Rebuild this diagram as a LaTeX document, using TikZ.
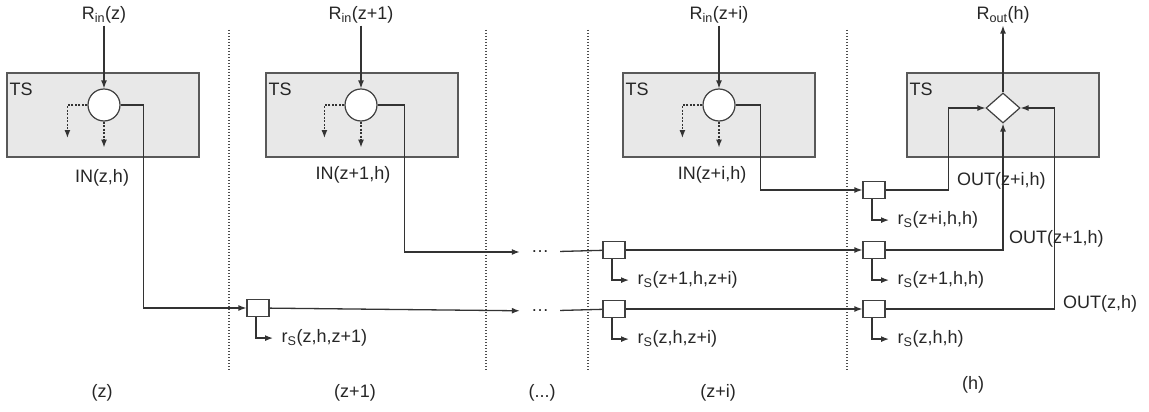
\documentclass[tikz,border=0pt]{standalone}
\usepackage{fontspec}
\setmainfont{Liberation Sans}
\usetikzlibrary{arrows.meta,shapes.geometric}
\begin{document}
\begin{tikzpicture}
		[x=1pt,y=-1pt,
		font=\fontsize{18}{21}\selectfont,
		tsbox/.style={rectangle,draw=black!65,fill=black!9,line width=1.2pt,
inner sep=0pt,minimum width=192pt,minimum height=84pt},
		tslabel/.style={anchor=base west,inner sep=0pt,text=black!85},
		sum/.style={circle,draw=black!75,fill=white,line width=1.2pt,
inner sep=0pt,minimum size=32pt},
		merge/.style={diamond,draw=black!75,fill=white,line width=1.2pt,
inner sep=0pt,minimum width=34pt,minimum height=30pt},
		split/.style={rectangle,draw=black!75,fill=white,line width=1.2pt,
inner sep=0pt,minimum width=22pt,minimum height=17pt},
		textstyle/.style={text=black!85,inner sep=2pt},
		dots/.style={text=black!85,inner sep=0pt,minimum width=40pt},
		plainline/.style={black!80,line width=1.3pt},
		edgestyle/.style={->,>={Latex[length=8pt,width=6pt]},plainline},
		sidestyle/.style={edgestyle,dash pattern=on 2pt off 1.5pt},
		sepstyle/.style={black!70,dash pattern=on 1.3pt off 1.7pt,line width=1.2pt}]
		\useasboundingbox (0,0) rectangle (1149,412);
		% slot separators
		\foreach \x in {229,486,588,847}
			\draw [sepstyle] (\x,30) -- (\x,370);
		% time slots
		\node at (103,115) (ts1) [tsbox] {};
		\node at (362,115) (ts2) [tsbox] {};
		\node at (719,115) (ts3) [tsbox] {};
		\node at (1003,115) (ts4) [tsbox] {};
		\foreach \n in {1,...,4}
			\node [tslabel] (tsl\n) at ([xshift=3pt,yshift=-23pt]ts\n.north west) {TS};
		\node at (104,105) (c1) [sum] {};
		\node at (361,105) (c2) [sum] {};
		\node at (719,105) (c3) [sum] {};
		\node at (1003,108) (d) [merge] {};
		% requests in and out
		\node at (104,15) (rin1) [textstyle] {R\textsubscript{in}(z)}
			edge [edgestyle] (c1);
		\node at (361,15) (rin2) [textstyle] {R\textsubscript{in}(z+1)}
			edge [edgestyle] (c2);
		\node at (719,15) (rin3) [textstyle] {R\textsubscript{in}(z+i)}
			edge [edgestyle] (c3);
		\node at (1003,15) (rout) [textstyle] {R\textsubscript{out}(h)};
		\draw [edgestyle] (d) -- (rout);
		\foreach \c in {c1,c2,c3} {
			\draw [sidestyle] (\c.west) -- ++(-20,0) -- ++(0,33);
			\draw [sidestyle] (\c.south) -- ++(0,26);
		}
		\node at (102,178) (in1) [textstyle] {IN(z,h)};
		\node at (353,175) (in2) [textstyle] {IN(z+1,h)};
		\node at (712,175) (in3) [textstyle] {IN(z+i,h)};
		% splits along the flows
		\node at (258,308) (sz1) [split] {};
		\node at (614,309) (szi) [split] {};
		\node at (874,309) (szh) [split] {};
		\node at (614,250) (s1i) [split] {};
		\node at (874,250) (s1h) [split] {};
		\node at (874,190) (sih) [split] {};
		\node at (540,252) (dt1) [dots] {\dots};
		\node at (540,311) (dtz) [dots] {\dots};
		\draw [edgestyle] (c1.east) -- ++(23,0) |- (sz1);
		\draw [edgestyle] (sz1) -- (dtz);
		\draw [plainline] (dtz) -- (szi);
		\draw [edgestyle] (szi) -- (szh);
		\draw [edgestyle] (c2.east) -- ++(27,0) |- (dt1);
		\draw [plainline] (dt1) -- (s1i);
		\draw [edgestyle] (s1i) -- (s1h);
		\draw [edgestyle] (c3.east) -- ++(25,0) |- (sih);
		\draw [edgestyle] (sih.east) -- ++(63,0) |- (d);
		\draw [edgestyle] (s1h.east) -| (d);
		\draw [edgestyle] (szh.east) -- ++(169,0) |- (d);
		\node at (955,181) (out3) [textstyle,anchor=west] {OUT(z+i,h)};
		\node at (1007,239) (out2) [textstyle,anchor=west] {OUT(z+1,h)};
		\node at (1061,304) (out1) [textstyle,anchor=west] {OUT(z,h)};
		\foreach \s/\t in {sz1/{z,h,z+1},szi/{z,h,z+i},s1i/{z+1,h,z+i},
				szh/{z,h,h},s1h/{z+1,h,h},sih/{z+i,h,h}}
			\draw [edgestyle] ([xshift=-2pt]\s.south) |- ++(17,21)
				node [textstyle,anchor=west,xshift=6pt] {r\textsubscript{S}(\t)};
		% slot names
		\node at (102,393) (lz) [textstyle] {(z)};
		\node at (355,393) (lz1) [textstyle] {(z+1)};
		\node at (542,393) (ldots) [textstyle] {(...)};
		\node at (718,393) (lzi) [textstyle] {(z+i)};
		\node at (973,385) (lh) [textstyle] {(h)};
\end{tikzpicture}
\end{document}
